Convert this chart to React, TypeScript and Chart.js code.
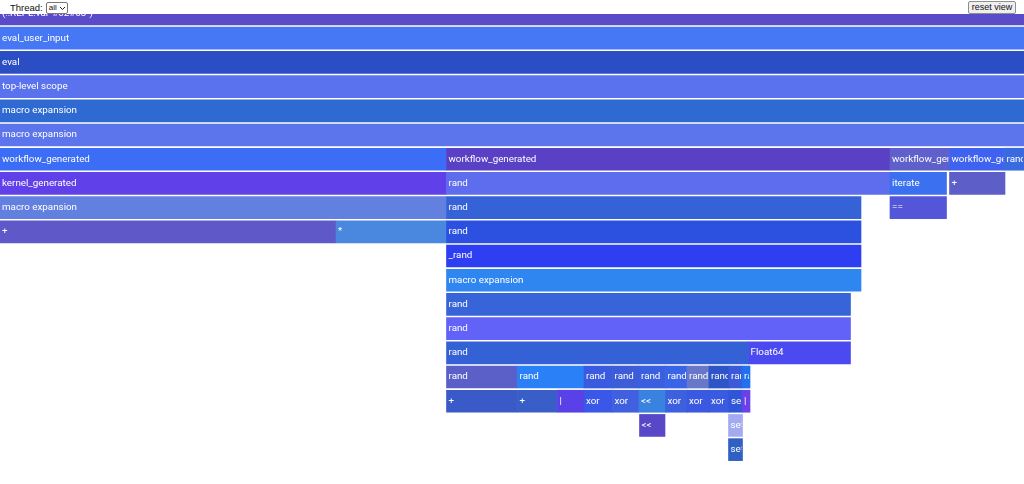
import React, { useEffect, useRef } from "react";
import { Chart, registerables } from "chart.js";

Chart.register(...registerables);

// Flame graph frames (one entry per box), in stack depth order
const frameNames: string[] = [
  "(::REPL.var\"#62#63\")",
  "eval_user_input",
  "eval",
  "top-level scope",
  "macro expansion",
  "macro expansion",
  "workflow_generated", "workflow_generated", "workflow_generated", "workflow_generated", "rand",
  "kernel_generated", "rand", "iterate", "+",
  "macro expansion", "rand", "==",
  "+", "*", "rand",
  "_rand",
  "macro expansion",
  "rand",
  "rand",
  "rand", "Float64",
  "rand", "rand", "rand", "rand", "rand", "rand", "rand", "rand", "rand", "rand",
  "+", "+", "|", "xor", "xor", "<<", "xor", "xor", "xor", "set", "|",
  "<<", "set",
  "set",
];

// Stack depth of each frame (0 = outermost)
const frameDepth: number[] = [
  0,
  1,
  2,
  3,
  4,
  5,
  6, 6, 6, 6, 6,
  7, 7, 7, 7,
  8, 8, 8,
  9, 9, 9,
  10,
  11,
  12,
  13,
  14, 14,
  15, 15, 15, 15, 15, 15, 15, 15, 15, 15,
  16, 16, 16, 16, 16, 16, 16, 16, 16, 16, 16,
  17, 17,
  18,
];

// Sample range covered by each frame (start, end)
const frameStart: number[] = [
  0,
  0,
  0,
  0,
  0,
  0,
  0, 446.5, 890, 949.5, 1004.5,
  0, 446.5, 890, 949.5,
  0, 446.5, 890,
  0, 336, 446.5,
  446.5,
  446.5,
  446.5,
  446.5,
  446.5, 748.5,
  446.5, 517.5, 584, 612.5, 639, 665.5, 687, 709, 729, 742,
  446.5, 517.5, 557.5, 584, 612.5, 639, 665.5, 687, 709, 729, 742,
  639.5, 728.5,
  728.5,
];

const frameEnd: number[] = [
  1024,
  1024,
  1024,
  1024,
  1024,
  1024,
  446.5, 890, 949.5, 1004.5, 1024,
  446.5, 890, 946.5, 1005,
  446.5, 861, 946.5,
  336, 446.5, 861,
  861,
  861,
  850.5,
  850.5,
  748.5, 850.5,
  517.5, 584, 612.5, 639, 665.5, 687, 709, 729, 742, 750,
  517.5, 557.5, 584, 612.5, 639, 665.5, 687, 709, 729, 742, 750,
  665, 742.5,
  742.5,
];

const frameColors: string[] = [
  "#5a4cc8",
  "#4677f4",
  "#2c4ec4",
  "#5b72ee",
  "#2f6ad2",
  "#5c74ec",
  "#3b6df6", "#5a40c4", "#5f60cc", "#3f62f0", "#3a6ae0",
  "#6040e8", "#5e6cee", "#3b70f0", "#5e5ec8",
  "#6280e0", "#3662d8", "#5356d8",
  "#5f58c8", "#4a88e0", "#2c50e0",
  "#2e3ef2",
  "#2f86f0",
  "#3764d8",
  "#6262f8",
  "#3462d6", "#4a4af0",
  "#5a60c8", "#2a80f6", "#3a5ae0", "#3c5cd8", "#3a60e0", "#3a64e8", "#6878c8", "#2d55c8", "#3a5ad8", "#2070f0",
  "#3a5ac8", "#3a5ec8", "#5a40e8", "#3a58e8", "#4060e0", "#3a82e0", "#3c60e0", "#3a58e0", "#3a5ae0", "#2f55d8", "#6a40e8",
  "#5848c8", "#a4aaf2",
  "#3060c4",
];

const threadOptions: string[] = ["all"];

const TOTAL_SAMPLES = 1024;
const LABEL_FONT = "9.8px Roboto, 'Noto Sans', sans-serif";

const labelPlugin = {
  id: "frameLabels",
  afterDatasetsDraw(chart: any) {
    const ctx = chart.ctx as CanvasRenderingContext2D;
    const area = chart.chartArea;
    const meta = chart.getDatasetMeta(0);
    ctx.save();
    ctx.beginPath();
    ctx.rect(area.left, area.top, area.right - area.left, area.bottom - area.top);
    ctx.clip();
    ctx.font = LABEL_FONT;
    ctx.textBaseline = "middle";
    ctx.fillStyle = "#ffffff";
    meta.data.forEach((el: any, i: number) => {
      const p = el.getProps(["x", "y", "base", "height"], true);
      const left = Math.min(p.x, p.base);
      const w = Math.abs(p.x - p.base);
      ctx.save();
      ctx.beginPath();
      ctx.rect(left, p.y - p.height / 2, Math.max(0, w - 1), p.height);
      ctx.clip();
      ctx.fillText(frameNames[i], left + 2, p.y);
      ctx.restore();
    });
    ctx.restore();
  },
};

export default function App() {
  const canvasRef = useRef<HTMLCanvasElement | null>(null);

  useEffect(() => {
    if (!canvasRef.current) return;
    const data = frameNames.map((_, i) => ({
      x: [frameStart[i], frameEnd[i]],
      y: frameDepth[i],
    }));
    const chart = new Chart(canvasRef.current, {
      type: "bar",
      data: {
        datasets: [
          {
            data: data as any,
            backgroundColor: frameColors,
            borderWidth: 0,
            barThickness: 22,
          } as any,
        ],
      },
      options: {
        indexAxis: "y",
        responsive: false,
        animation: false,
        layout: { padding: 0 },
        plugins: {
          legend: { display: false },
          tooltip: { enabled: false },
        },
        scales: {
          x: { type: "linear", min: 0, max: TOTAL_SAMPLES, display: false, offset: false },
          y: { type: "linear", min: 0, max: 19.42, reverse: true, display: false, offset: false },
        },
      },
      plugins: [labelPlugin],
    });
    return () => chart.destroy();
  }, []);

  return (
    <div
      style={{
        position: "fixed",
        left: 0,
        top: 0,
        width: 1024,
        height: 484,
        background: "#ffffff",
        overflow: "hidden",
        fontFamily: "'Liberation Sans', Arial, sans-serif",
      }}
    >
      <div style={{ position: "absolute", left: 10, top: 2, fontSize: 9.5, lineHeight: "12px", display: "flex", alignItems: "center", color: "#111" }}>
        <span>Thread:</span>
        <span
          style={{
            marginLeft: 3,
            display: "inline-flex",
            alignItems: "center",
            height: 10,
            padding: "0 1px 0 2px",
            border: "1px solid #767676",
            borderRadius: 2,
            fontSize: 8,
            lineHeight: "10px",
            background: "#fff",
          }}
        >
          {threadOptions[0]}
          <svg width="7" height="5" viewBox="0 0 7 5" style={{ marginLeft: 2 }}>
            <polyline points="1,1 3.5,3.5 6,1" fill="none" stroke="#222" strokeWidth="1" />
          </svg>
        </span>
      </div>
      <button
        style={{
          position: "absolute",
          left: 968,
          top: 1,
          width: 48,
          height: 13,
          fontSize: 9,
          padding: 0,
          lineHeight: "11px",
          background: "#efefef",
          border: "1px solid #8f8f8f",
          borderRadius: 2,
          color: "#111",
          fontFamily: "'Liberation Sans', Arial, sans-serif",
        }}
      >
        reset view
      </button>
      <canvas
        ref={canvasRef}
        width={1024}
        height={470}
        style={{ position: "absolute", left: 0, top: 14, display: "block" }}
      />
    </div>
  );
}
